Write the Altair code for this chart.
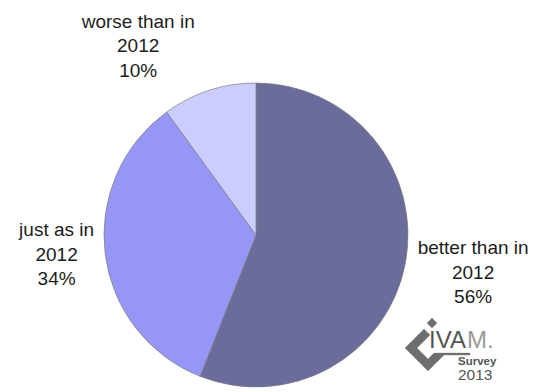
import math
import altair as alt
import pandas as pd

# ---- data ----
categories = ["better than in 2012", "just as in 2012", "worse than in 2012"]
shares = [56, 34, 10]
colors = ["#6b6b9c", "#9696f6", "#ccccff"]

df = pd.DataFrame({"category": categories, "share": shares, "order": list(range(len(categories)))})
df["mid"] = df["share"].cumsum() - df["share"] / 2
df["label"] = [c.replace(" 2012", "\n2012") + f"\n{v}%" for c, v in zip(categories, shares)]

CX, CY, R = 256, 235, 152
FONT = "Liberation Sans"

pie = alt.Chart(df).mark_arc(radius=R, stroke="#7c7c7c", strokeWidth=0.7).encode(
    theta=alt.Theta("share:Q", stack=True),
    color=alt.Color("category:N", scale=alt.Scale(domain=categories, range=colors), legend=None),
    order=alt.Order("order:Q"),
    x=alt.value(CX),
    y=alt.value(CY),
)

# label placement (style, not data)
label_style = {
    "better than in 2012": dict(radius=219, dx=2, dy=-28),
    "just as in 2012": dict(radius=201, dx=0, dy=-30),
    "worse than in 2012": dict(radius=200, dx=-56, dy=-23),
}

label_layers = []
for cat, st in label_style.items():
    label_layers.append(
        alt.Chart(df).transform_filter(alt.datum.category == cat).mark_text(
            fontSize=19, lineHeight=24.5, lineBreak="\n", align="center", baseline="middle",
            color="#1c1c1c", font=FONT, radius=st["radius"], dx=st["dx"], dy=st["dy"],
        ).encode(
            theta=alt.Theta("mid:Q", scale=alt.Scale(domain=[0, 100], range=[0, 2 * math.pi]), stack=None),
            text="label:N",
            x=alt.value(CX),
            y=alt.value(CY),
        )
    )

# ---- logo (decoration) ----
lcx, lcy = 440, 350
chev = [(424, 329), (405, 348), (428, 371), (444, 355), (470, 355), (470, 353),
        (434, 353), (428, 359), (417, 348), (430, 335)]
diam = [(432, 318), (437, 323), (432, 328), (427, 323)]

def to_path(pts):
    return "M" + " L".join(f"{x - lcx},{y - lcy}" for x, y in pts) + " Z"

logo_path = to_path(chev) + " " + to_path(diam)
one = pd.DataFrame({"k": [0]})
logo_shape = alt.Chart(one).mark_point(
    shape=logo_path, size=4, filled=True, fill="#6e6e6e", stroke="#6e6e6e", strokeWidth=0.3, opacity=1
).encode(x=alt.value(lcx), y=alt.value(lcy))

def logo_text(txt, x, y, size, color, weight="normal"):
    return alt.Chart(one).mark_text(
        text=txt, align="left", baseline="alphabetic", fontSize=size, color=color,
        font=FONT, fontWeight=weight,
    ).encode(x=alt.value(x), y=alt.value(y))

logo = [
    logo_shape,
    logo_text("IVA", 429, 348, 24, "#555555"),
    logo_text("M.", 467, 348, 24, "#9a9a9a"),
    logo_text("Survey", 458, 365, 11.5, "#555555", "bold"),
    logo_text("2013", 458, 380, 15.5, "#555555"),
]

chart = alt.layer(pie, *label_layers, *logo).resolve_scale(theta="independent").properties(
    width=537, height=392, padding=0, autosize=alt.AutoSizeParams(type="none"),
    background="white",
).configure_view(stroke=None)

chart.save("out.html", embed_options={"renderer": "svg", "actions": False})
